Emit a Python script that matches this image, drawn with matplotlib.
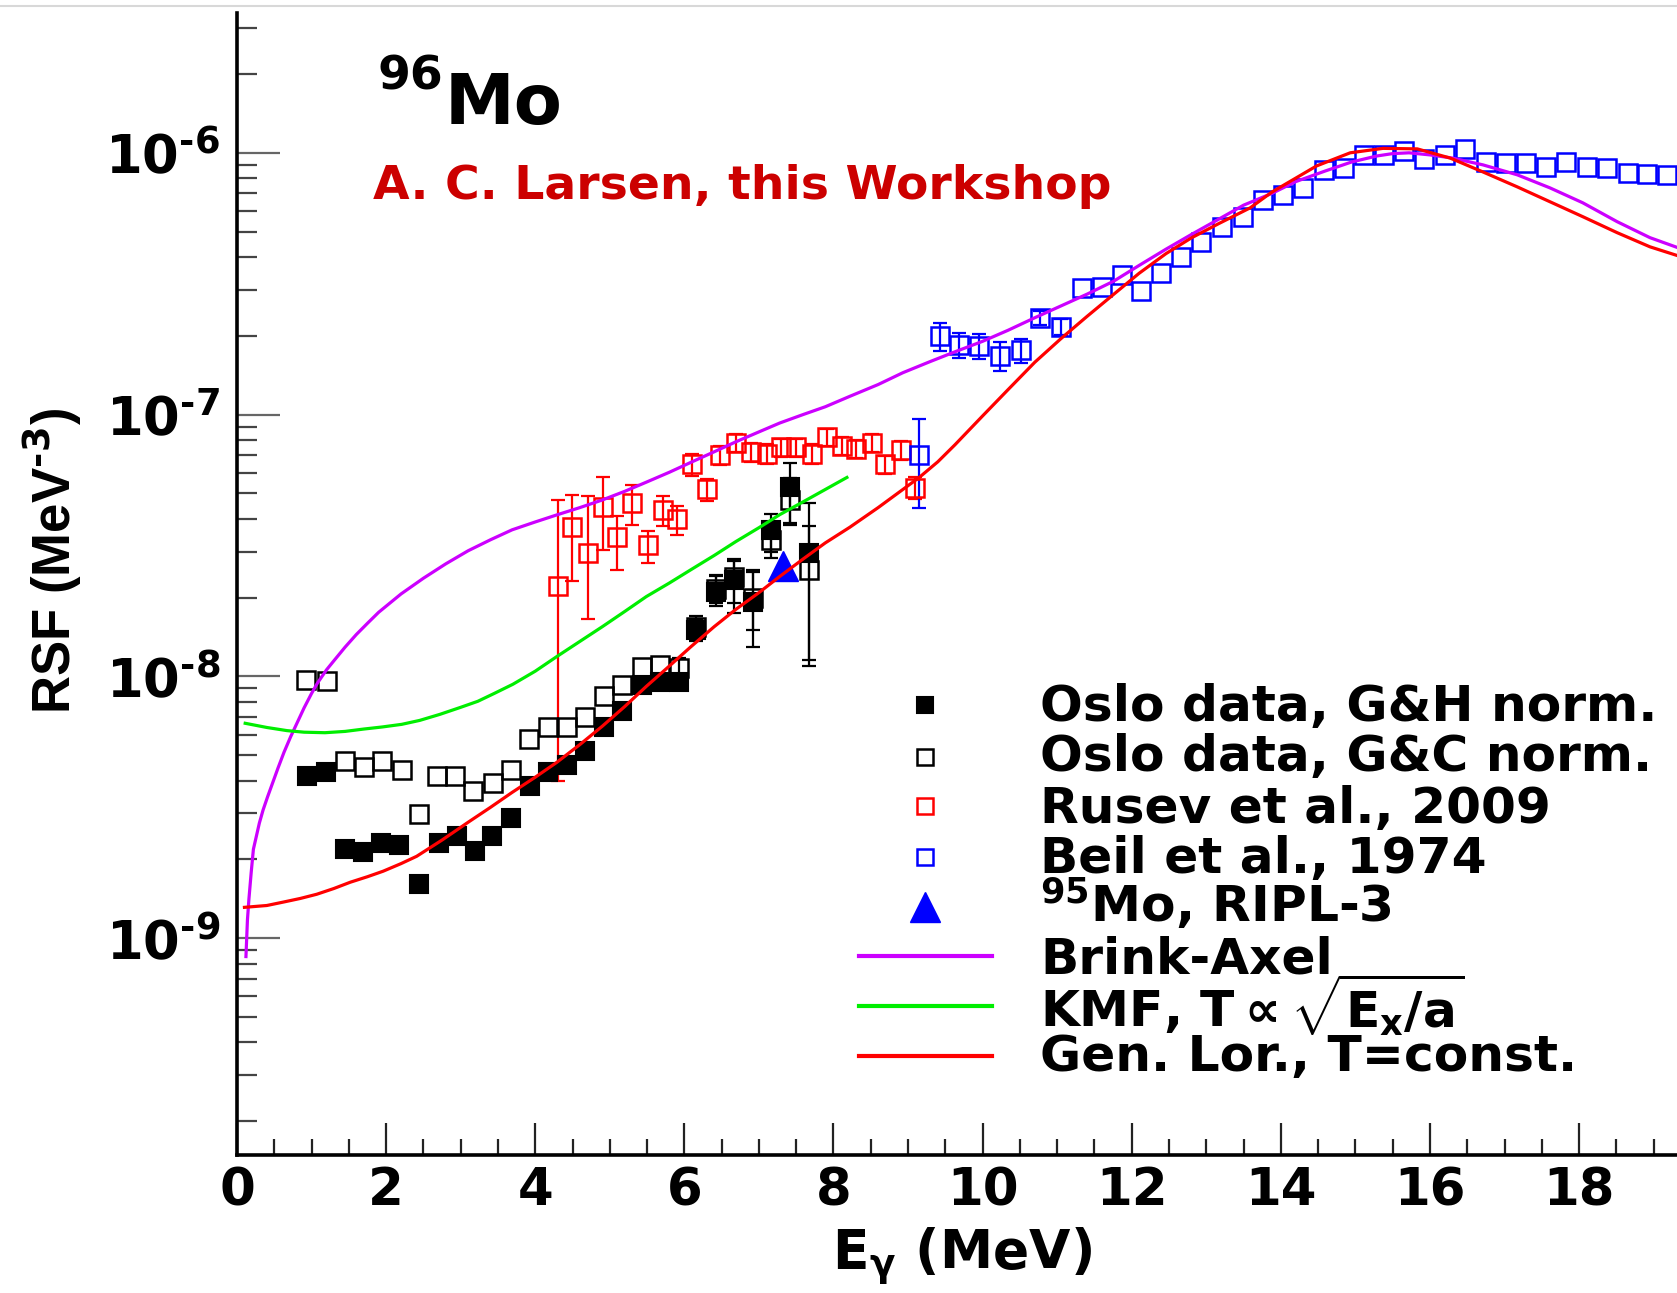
import matplotlib
matplotlib.use("Agg")
import numpy as np
import matplotlib.pyplot as plt
from matplotlib.lines import Line2D
from matplotlib.ticker import MultipleLocator, LogLocator, NullFormatter

plt.rcParams['font.family'] = ['DejaVu Sans']
plt.rcParams['font.weight'] = 'bold'
plt.rcParams['mathtext.fontset'] = 'custom'
plt.rcParams['mathtext.rm'] = 'DejaVu Sans:bold'
plt.rcParams['mathtext.it'] = 'DejaVu Sans:bold'
plt.rcParams['mathtext.bf'] = 'DejaVu Sans:bold'

# ---- data ----
# Oslo data, G&H normalisation (filled black squares); 0 = bar hidden by the marker
gh_e = [0.94, 1.19, 1.45, 1.69, 1.93, 2.17, 2.44, 2.71, 2.95, 3.19, 3.42, 3.67, 3.93, 4.17,
        4.43, 4.67, 4.92, 5.17, 5.43, 5.67, 5.93, 6.16, 6.42, 6.67, 6.92, 7.16, 7.42, 7.67]
gh_v = [4.15e-9, 4.3e-9, 2.19e-9, 2.13e-9, 2.32e-9, 2.28e-9, 1.61e-9, 2.32e-9, 2.45e-9, 2.15e-9,
        2.45e-9, 2.87e-9, 3.8e-9, 4.33e-9, 4.6e-9, 5.2e-9, 6.4e-9, 7.35e-9, 9.3e-9, 9.55e-9,
        9.5e-9, 1.51e-8, 2.11e-8, 2.34e-8, 1.93e-8, 3.63e-8, 5.3e-8, 2.97e-8]
gh_dn = [0, 0, 0, 0, 0, 0, 0, 0, 0, 0, 0, 0, 0, 0, 0, 0, 0, 0, 0, 0,
         0, 1.5e-9, 2.5e-9, 5.9e-9, 6.3e-9, 6.3e-9, 15e-9, 18.7e-9]
gh_up = [0, 0, 0, 0, 0, 0, 0, 0, 0, 0, 0, 0, 0, 0, 0, 0, 0, 0, 0, 0,
         0, 1.5e-9, 3e-9, 4.1e-9, 6.3e-9, 5.5e-9, 12.6e-9, 16.3e-9]

# Oslo data, G&C normalisation (open black squares)
gc_e = [0.93, 1.21, 1.45, 1.71, 1.95, 2.21, 2.44, 2.68, 2.92, 3.16, 3.43, 3.67, 3.92, 4.17,
        4.43, 4.67, 4.92, 5.16, 5.43, 5.67, 5.93, 6.16, 6.42, 6.67, 6.92, 7.16, 7.42, 7.67]
gc_v = [9.66e-9, 9.6e-9, 4.74e-9, 4.5e-9, 4.74e-9, 4.4e-9, 2.97e-9, 4.15e-9, 4.15e-9, 3.64e-9,
        3.93e-9, 4.4e-9, 5.75e-9, 6.4e-9, 6.4e-9, 7.0e-9, 8.4e-9, 9.3e-9, 1.09e-8, 1.11e-8,
        1.08e-8, 1.55e-8, 2.15e-8, 2.4e-8, 2.0e-8, 3.33e-8, 4.74e-8, 2.56e-8]
gc_dn = [0, 0, 0, 0, 0, 0, 0, 0, 0, 0, 0, 0, 0, 0, 0, 0, 0, 0, 0, 0,
         1.0e-9, 1.5e-9, 2.5e-9, 5e-9, 5e-9, 5e-9, 9e-9, 14e-9]
gc_up = [0, 0, 0, 0, 0, 0, 0, 0, 0, 0, 0, 0, 0, 0, 0, 0, 0, 0, 0, 0,
         1.0e-9, 1.5e-9, 3e-9, 4e-9, 5e-9, 5e-9, 10e-9, 12e-9]

# Rusev et al., 2009 (open red squares)
ru_e = [4.31, 4.49, 4.71, 4.91, 5.10, 5.30, 5.51, 5.71, 5.90, 6.10, 6.30, 6.48, 6.69,
        6.90, 7.11, 7.30, 7.50, 7.71, 7.91, 8.11, 8.30, 8.51, 8.69, 8.90, 9.10]
ru_v = [2.21e-8, 3.71e-8, 2.95e-8, 4.42e-8, 3.42e-8, 4.6e-8, 3.19e-8, 4.33e-8, 3.98e-8,
        6.45e-8, 5.18e-8, 7.0e-8, 7.8e-8, 7.2e-8, 7.1e-8, 7.5e-8, 7.5e-8, 7.1e-8, 8.2e-8,
        7.6e-8, 7.4e-8, 7.8e-8, 6.45e-8, 7.3e-8, 5.26e-8]
ru_dn = [1.81e-8, 1.4e-8, 1.29e-8, 1.37e-8, 0.87e-8, 0.8e-8, 0.49e-8, 0.58e-8, 0.5e-8,
         0.6e-8, 0.5e-8, 0.6e-8, 0.6e-8, 0.6e-8, 0.6e-8, 0.6e-8, 0.6e-8, 0.6e-8, 0.6e-8,
         0.6e-8, 0.6e-8, 0.6e-8, 0.5e-8, 0.6e-8, 0.5e-8]
ru_up = [2.5e-8, 1.24e-8, 1.95e-8, 1.38e-8, 0.68e-8, 0.8e-8, 0.41e-8, 0.57e-8, 0.5e-8,
         0.6e-8, 0.5e-8, 0.6e-8, 0.6e-8, 0.6e-8, 0.6e-8, 0.6e-8, 0.6e-8, 0.6e-8, 0.6e-8,
         0.6e-8, 0.6e-8, 0.6e-8, 0.5e-8, 0.6e-8, 0.5e-8]

# Beil et al., 1974 (open blue squares)
be_e = [9.15, 9.43, 9.69, 9.95, 10.23, 10.51, 10.77, 11.05, 11.33, 11.60, 11.87, 12.12, 12.39,
        12.66, 12.93, 13.21, 13.49, 13.76, 14.03, 14.30, 14.58, 14.85, 15.12, 15.38, 15.65,
        15.92, 16.20, 16.47, 16.75, 17.02, 17.29, 17.56, 17.83, 18.10, 18.37, 18.65, 18.91,
        19.18, 19.45]
be_v = [7.0e-8, 1.99e-7, 1.85e-7, 1.83e-7, 1.68e-7, 1.76e-7, 2.34e-7, 2.17e-7, 3.05e-7, 3.08e-7,
        3.42e-7, 2.97e-7, 3.49e-7, 4.0e-7, 4.57e-7, 5.22e-7, 5.7e-7, 6.6e-7, 6.9e-7, 7.35e-7,
        8.6e-7, 8.75e-7, 9.8e-7, 9.8e-7, 1.02e-6, 9.45e-7, 9.8e-7, 1.03e-6, 9.25e-7, 9.15e-7,
        9.15e-7, 8.85e-7, 9.25e-7, 8.85e-7, 8.75e-7, 8.4e-7, 8.3e-7, 8.2e-7, 8.1e-7]
be_err = [2.6e-8, 2.4e-8, 2.0e-8, 2.0e-8, 2.1e-8, 1.8e-8, 1.5e-8, 1.5e-8, 0, 0,
          0, 0, 0, 0, 0, 0, 0, 0, 0, 0, 0, 0, 0, 0, 0, 0, 0, 0, 0, 0,
          0, 0, 0, 0, 0, 0, 0, 0, 0]

# 95Mo, RIPL-3 (blue triangle)
ripl_e = [7.32]
ripl_v = [2.65e-8]

# model curves, read as log10(RSF) along each line
ba_e = [0.12, 0.14, 0.16, 0.19, 0.22, 0.26, 0.30, 0.35, 0.41, 0.48, 0.55, 0.63, 0.72, 0.81,
        0.90, 1.00, 1.08, 1.20, 1.30, 1.45, 1.60, 1.75, 1.90, 2.20, 2.50, 2.80, 3.10, 3.40,
        3.69, 4.00, 4.29, 4.60, 4.90, 5.20, 5.49, 5.80, 6.09, 6.40, 6.69, 7.00, 7.28, 7.60,
        7.89, 8.22, 8.60, 8.93, 9.30, 9.63, 10.00, 10.34, 10.70, 11.05, 11.40, 11.76, 12.10,
        12.46, 12.80, 13.17, 13.50, 13.88, 14.20, 14.59, 14.95, 15.29, 15.50, 15.72, 16.00,
        16.30, 16.71, 17.17, 17.61, 18.05, 18.51, 18.95, 19.40]
ba_log = [-9.07, -8.93, -8.85, -8.75, -8.66, -8.61, -8.56, -8.51, -8.46, -8.405, -8.35, -8.29,
          -8.23, -8.175, -8.12, -8.065, -8.025, -7.975, -7.94, -7.888, -7.84, -7.797, -7.755,
          -7.685, -7.625, -7.57, -7.52, -7.478, -7.44, -7.41, -7.383, -7.355, -7.326, -7.293,
          -7.258, -7.22, -7.182, -7.142, -7.104, -7.066, -7.032, -6.999, -6.97, -6.93, -6.885,
          -6.84, -6.797, -6.76, -6.72, -6.678, -6.63, -6.585, -6.54, -6.49, -6.43, -6.368,
          -6.312, -6.253, -6.20, -6.155, -6.11, -6.07, -6.035, -6.012, -6.003, -6.0, -6.008,
          -6.02, -6.046, -6.084, -6.134, -6.191, -6.263, -6.324, -6.37]

kmf_e = [0.11, 0.40, 0.67, 0.90, 1.18, 1.45, 1.70, 1.95, 2.21, 2.45, 2.72, 3.00, 3.23, 3.45,
         3.70, 4.00, 4.29, 4.60, 4.90, 5.20, 5.49, 5.80, 6.09, 6.40, 6.69, 7.00, 7.28, 7.60,
         7.89, 8.18]
kmf_log = [-8.179, -8.195, -8.207, -8.213, -8.215, -8.21, -8.201, -8.193, -8.183, -8.168,
           -8.145, -8.118, -8.095, -8.065, -8.03, -7.98, -7.924, -7.866, -7.81, -7.752,
           -7.695, -7.643, -7.592, -7.538, -7.485, -7.432, -7.382, -7.332, -7.286, -7.24]

gl_e = [0.10, 0.40, 0.62, 0.85, 1.07, 1.30, 1.52, 1.75, 1.96, 2.20, 2.41, 2.75, 3.10, 3.40,
        3.69, 4.00, 4.29, 4.60, 4.90, 5.20, 5.49, 5.80, 6.09, 6.40, 6.69, 7.00, 7.28, 7.60,
        7.89, 8.22, 8.60, 9.15, 9.40, 9.63, 10.00, 10.34, 10.70, 11.05, 11.40, 11.76, 12.10,
        12.46, 12.80, 13.17, 13.59, 13.88, 14.03, 14.48, 14.93, 15.37, 15.83, 16.27, 16.71,
        17.17, 17.61, 18.05, 18.51, 18.95, 19.40]
gl_log = [-8.882, -8.875, -8.862, -8.848, -8.832, -8.81, -8.786, -8.765, -8.744, -8.715,
          -8.687, -8.625, -8.557, -8.50, -8.443, -8.385, -8.328, -8.26, -8.19, -8.115, -8.038,
          -7.96, -7.886, -7.81, -7.744, -7.68, -7.618, -7.55, -7.49, -7.43, -7.355, -7.24,
          -7.18, -7.115, -7.005, -6.905, -6.80, -6.71, -6.625, -6.54, -6.46, -6.385, -6.325,
          -6.27, -6.21, -6.15, -6.125, -6.05, -6.0, -5.983, -5.985, -6.02, -6.073, -6.13,
          -6.187, -6.244, -6.305, -6.359, -6.40]

x_ticks = [0, 2, 4, 6, 8, 10, 12, 14, 16, 18, 20]
y_ticks = [1e-9, 1e-8, 1e-7, 1e-6]
y_tick_labels = ['$10^{\u20109}$', '$10^{\u20108}$', '$10^{\u20107}$', '$10^{\u20106}$']

legend_labels = ['Oslo data, G&H norm.', 'Oslo data, G&C norm.', 'Rusev et al., 2009',
                 'Beil et al., 1974', '$^{95}$Mo, RIPL-3', 'Brink-Axel',
                 r'KMF, T$\propto\sqrt{E_x/a}$', 'Gen. Lor., T=const.']

MAGENTA = '#CC00FF'
GREEN = '#00EE00'
RED = '#FF0000'
BLUE = '#0000FF'

W, H = 1677, 1293


def fx(px):
    return px / W


def fy(py):
    return 1 - py / H


def bars(ax, e, v, dn, up, color):
    # only the error bars that stick out of the marker
    idx = [i for i in range(len(e)) if dn[i] > 0 or up[i] > 0]
    ax.errorbar([e[i] for i in idx], [v[i] for i in idx],
                yerr=[[dn[i] for i in idx], [up[i] for i in idx]], fmt='none',
                ecolor=color, elinewidth=1.6, capsize=5, capthick=1.6, zorder=2)


fig = plt.figure(figsize=(W / 100, H / 100), dpi=100)
# x=0 at 237 px, 74.56 px per MeV; y from 1155 px (bottom) to 13 px (top)
ax = fig.add_axes([fx(237), fy(1155), 20 * 74.56 / W, (1155 - 13) / H])
ax.set_yscale('log')
ax.set_xlim(0, 20)
ax.set_ylim(1.486e-10, 3.42e-6)

ms = 13.5
bars(ax, gh_e, gh_v, gh_dn, gh_up, 'black')
bars(ax, gc_e, gc_v, gc_dn, gc_up, 'black')
bars(ax, ru_e, ru_v, ru_dn, ru_up, RED)
bars(ax, be_e, be_v, be_err, be_err, BLUE)
ax.plot(gh_e, gh_v, 's', color='black', ms=ms, mew=1.5, zorder=3)
ax.plot(gc_e, gc_v, 's', color='black', mfc='none', ms=ms, mew=1.8, zorder=3)
ax.plot(ru_e, ru_v, 's', color=RED, mfc='none', ms=ms, mew=1.8, zorder=3)
ax.plot(be_e, be_v, 's', color=BLUE, mfc='none', ms=ms, mew=1.8, zorder=3)
ax.plot(ripl_e, ripl_v, '^', color=BLUE, ms=22, zorder=4)

ax.plot(ba_e, 10 ** np.array(ba_log), color=MAGENTA, lw=2.3, zorder=5)
ax.plot(kmf_e, 10 ** np.array(kmf_log), color=GREEN, lw=2.3, zorder=5)
ax.plot(gl_e, 10 ** np.array(gl_log), color=RED, lw=2.3, zorder=5)

# axes styling
for s in ['top', 'right']:
    ax.spines[s].set_visible(False)
for s in ['left', 'bottom']:
    ax.spines[s].set_linewidth(2.6)

ax.set_xticks(x_ticks)
ax.xaxis.set_minor_locator(MultipleLocator(0.5))
ax.set_yticks(y_ticks)
ax.set_yticklabels(y_tick_labels)
ax.yaxis.set_minor_locator(LogLocator(base=10, subs=range(2, 10), numticks=50))
ax.yaxis.set_minor_formatter(NullFormatter())

ax.tick_params(axis='x', which='major', direction='in', length=23, width=1.6,
               labelsize=37, pad=8, color='#222222')
ax.tick_params(axis='x', which='minor', direction='in', length=11.5, width=1.6,
               color='#222222')
ax.tick_params(axis='y', which='major', direction='in', length=31, width=1.6,
               labelsize=38, pad=12, color='#666666')
ax.tick_params(axis='y', which='minor', direction='in', length=14.5, width=1.6,
               color='#444444')

ax.set_xlabel(r'E$_\gamma$ (MeV)', fontsize=38.5, fontweight='bold')
ax.xaxis.set_label_coords((962 - 237) / (20 * 74.56), -(1226 - 1155) / 1142)
ax.set_ylabel('RSF (MeV$^{\u20103}$)', fontsize=38, fontweight='bold',
              family='Liberation Sans')
ax.yaxis.set_label_coords(-(237 - 84) / (20 * 74.56), (1155 - 561) / 1142)

# titles
fig.text(fx(377), fy(89), '96', fontsize=34, fontweight='bold', va='baseline')
fig.text(fx(445), fy(124), 'Mo', fontsize=50.5, fontweight='bold', va='baseline')
fig.text(fx(373), fy(199), 'A. C. Larsen, this Workshop', fontsize=34, fontweight='bold',
         color='#CC0000', va='baseline')

# legend, drawn by hand to keep the tight row spacing of the original
text_base = [721, 771, 823, 873, 922, 973, 1028, 1071]
for lab, yb in zip(legend_labels, text_base):
    fig.text(fx(1040), fy(yb), lab, fontsize=36.2, fontweight='bold', va='baseline')

mark_y = [705, 757, 806, 857, 907]
mark_style = [dict(marker='s', color='black', mfc='black', ms=11.5, mew=1.5),
              dict(marker='s', color='black', mfc='none', ms=11.5, mew=1.8),
              dict(marker='s', color=RED, mfc='none', ms=11.5, mew=1.8),
              dict(marker='s', color=BLUE, mfc='none', ms=11.5, mew=1.8),
              dict(marker='^', color=BLUE, mfc=BLUE, ms=22, mew=1)]
for yy, st in zip(mark_y, mark_style):
    fig.add_artist(Line2D([fx(925)], [fy(yy)], transform=fig.transFigure, ls='none', **st))

line_y = [956, 1006, 1056]
for yy, c in zip(line_y, [MAGENTA, GREEN, RED]):
    fig.add_artist(Line2D([fx(859), fx(992)], [fy(yy), fy(yy)], transform=fig.transFigure,
                          color=c, lw=3))

# thin border line at the very top of the screenshot
fig.add_artist(Line2D([0, 1], [fy(6), fy(6)], transform=fig.transFigure,
                      color='#d8d8d8', lw=1.5))

fig.savefig('out.png', dpi=100)
